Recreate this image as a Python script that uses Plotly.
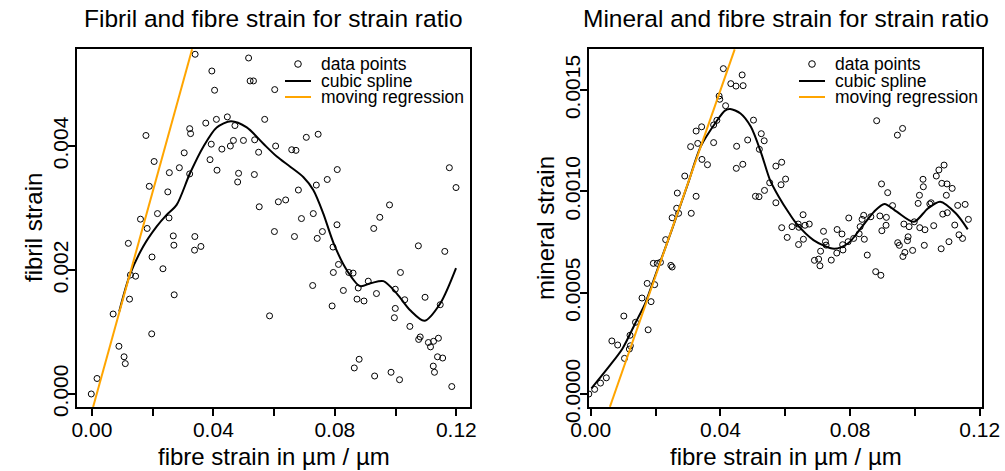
import plotly.graph_objects as go

# ---------------- data: fibril strain vs fibre strain ----------------
fib_x = [0.0340, 0.0516, 0.0395, 0.0521, 0.0532, 0.0404, 0.0602, 0.0375, 0.0410, 0.0446,
         0.0471, 0.0569, 0.0322, 0.0325, 0.0178, 0.0393, 0.0466, 0.0499, 0.0536, 0.0428,
         0.0456, 0.0549, 0.0605, 0.0304, 0.0205, 0.0288, 0.0389, 0.0255, 0.0322, 0.0412,
         0.0483, 0.0535, 0.0480, 0.0189, 0.0250, 0.0551, 0.0614, 0.0216, 0.0254, 0.0160,
         0.0182, 0.0120, 0.0268, 0.0270, 0.0339, 0.0338, 0.0359, 0.0601, 0.0198, 0.0234,
         0.0127, 0.0144, 0.0271, 0.0124, 0.0070, 0.0585, 0.0197, 0.0089, 0.0106, 0.0110,
         0.0017, -0.0002,
         0.0706, 0.0745, 0.0658, 0.0672, 0.0808, 0.0775, 0.0739, 0.0680, 0.0638, 0.0729,
         0.0690, 0.0980, 0.0948, 0.1177, 0.1199,
         0.0667, 0.0742, 0.0759, 0.0807, 0.0928, 0.0794, 0.1075, 0.1162, 0.0812, 0.0795,
         0.0846, 0.0860, 0.1016, 0.0727, 0.0910, 0.0877, 0.0828, 0.0937, 0.0999, 0.0873,
         0.0896, 0.1030, 0.1097, 0.1147, 0.0791, 0.0999, 0.0996, 0.1047, 0.1081, 0.1076,
         0.1108, 0.1125, 0.1115, 0.1141, 0.1138, 0.1155, 0.1124, 0.1128, 0.0880, 0.0864,
         0.0931, 0.0985, 0.1013, 0.1185]
fib_y = [0.00548, 0.00542, 0.00521, 0.00505, 0.00505, 0.00490, 0.00491, 0.00437, 0.00443, 0.00447,
         0.00433, 0.00443, 0.00428, 0.00420, 0.00417, 0.00403, 0.00409, 0.00409, 0.00410, 0.00395,
         0.00400, 0.00390, 0.00400, 0.00389, 0.00375, 0.00365, 0.00378, 0.00357, 0.00355, 0.00361,
         0.00356, 0.00354, 0.00342, 0.00335, 0.00326, 0.00302, 0.00310, 0.00291, 0.00284, 0.00282,
         0.00267, 0.00243, 0.00255, 0.00240, 0.00254, 0.00232, 0.00238, 0.00262, 0.00221, 0.00202,
         0.00192, 0.00190, 0.00160, 0.00153, 0.00129, 0.00126, 0.00097, 0.00077, 0.00060, 0.00049,
         0.00025, 0.00000,
         0.00414, 0.00419, 0.00394, 0.00393, 0.00362, 0.00346, 0.00337, 0.00329, 0.00313, 0.00291,
         0.00283, 0.00305, 0.00285, 0.00365, 0.00333,
         0.00254, 0.00251, 0.00262, 0.00273, 0.00267, 0.00237, 0.00239, 0.00230, 0.00209, 0.00196,
         0.00196, 0.00195, 0.00196, 0.00175, 0.00182, 0.00171, 0.00167, 0.00162, 0.00169, 0.00153,
         0.00150, 0.00152, 0.00156, 0.00144, 0.00142, 0.00138, 0.00123, 0.00109, 0.00092, 0.00088,
         0.00083, 0.00085, 0.00076, 0.00090, 0.00060, 0.00058, 0.00045, 0.00035, 0.00056, 0.00042,
         0.00029, 0.00035, 0.00023, 0.00012]

fib_spline_x = [0.0090, 0.0125, 0.0169, 0.0213, 0.0246, 0.0279, 0.0323, 0.0367, 0.0411, 0.0458,
                0.0510, 0.0564, 0.0609, 0.0652, 0.0696, 0.0729, 0.0762, 0.0796, 0.0839, 0.0883,
                0.0920, 0.0960, 0.1004, 0.1048, 0.1095, 0.1147, 0.1199]
fib_spline_y = [0.00133, 0.00192, 0.00238, 0.00270, 0.00289, 0.00305, 0.00356, 0.00399, 0.00430, 0.00440,
                0.00430, 0.00404, 0.00383, 0.00367, 0.00350, 0.00329, 0.00291, 0.00243, 0.00200, 0.00174,
                0.00179, 0.00182, 0.00162, 0.00135, 0.00118, 0.00146, 0.00203]

fib_reg_x = [0.0004, 0.0330]
fib_reg_y = [-0.00021, 0.00556]

# ---------------- data: mineral strain vs fibre strain ----------------
min_x = [0.0409, 0.0467, 0.0432, 0.0448, 0.0470, 0.0396, 0.0398, 0.0416, 0.0502, 0.0389,
         0.0379, 0.0342, 0.0325, 0.0526, 0.0535, 0.0330, 0.0308, 0.0379, 0.0484, 0.0450,
         0.0520, 0.0343, 0.0360, 0.0449, 0.0469, 0.0290, 0.0552, 0.0536, 0.0508, 0.0519,
         0.0267, 0.0325, 0.0265, 0.0271, 0.0310, 0.0251,
         0.0231, 0.0193, 0.0205, 0.0215, 0.0247, 0.0251, 0.0174, 0.0197, 0.0158, 0.0186,
         0.0102, 0.0138, 0.0177, 0.0121, 0.0065, 0.0083, 0.0122, 0.0119, 0.0104, 0.0048,
         0.0030, 0.0012, -0.0006,
         0.0882, 0.0946, 0.0962, 0.0571, 0.0589, 0.0601, 0.0587, 0.0571, 0.0655, 0.0897,
         0.0916, 0.1025, 0.1026, 0.1066, 0.1074, 0.1090, 0.1083, 0.1099, 0.1115, 0.1014,
         0.1046, 0.1050, 0.1097, 0.1010, 0.0931, 0.1132, 0.1155, 0.0796, 0.0842, 0.0864,
         0.0892, 0.0912, 0.1086, 0.1100, 0.1165,
         0.0589, 0.0606, 0.0621, 0.0640, 0.0642, 0.0661, 0.0674, 0.0641, 0.0656, 0.0718,
         0.0724, 0.0726, 0.0709, 0.0690, 0.0703, 0.0707, 0.0742, 0.0760, 0.0775, 0.0759,
         0.0778, 0.0777, 0.0794, 0.0811, 0.0828, 0.0844, 0.0831, 0.0837, 0.0853, 0.0898,
         0.0911, 0.0879, 0.0895, 0.0947, 0.0952, 0.0966, 0.0982, 0.0979, 0.0977, 0.0969,
         0.0963, 0.0993, 0.1015, 0.1031, 0.1058, 0.1029, 0.1081, 0.1105, 0.1123, 0.1136,
         0.1147, 0.0998]
min_y = [0.001606, 0.001575, 0.001532, 0.001520, 0.001522, 0.001471, 0.001455, 0.001423, 0.001352, 0.001351,
         0.001328, 0.001319, 0.001298, 0.001285, 0.001250, 0.001237, 0.001221, 0.001241, 0.001254, 0.001223,
         0.001208, 0.001158, 0.001132, 0.001114, 0.001134, 0.001076, 0.001043, 0.001005, 0.000976, 0.000974,
         0.000992, 0.000976, 0.000917, 0.000892, 0.000892, 0.000870,
         0.000762, 0.000645, 0.000645, 0.000650, 0.000635, 0.000627, 0.000546, 0.000540, 0.000474, 0.000456,
         0.000385, 0.000354, 0.000317, 0.000290, 0.000262, 0.000242, 0.000238, 0.000222, 0.000176, 0.000080,
         0.000054, 0.000023, 0.000000,
         0.001349, 0.001278, 0.001311, 0.001125, 0.001144, 0.001061, 0.001033, 0.000944, 0.000885, 0.001037,
         0.000994, 0.001060, 0.001023, 0.001076, 0.001106, 0.001130, 0.001040, 0.001037, 0.001015, 0.000981,
         0.000938, 0.000944, 0.000981, 0.000941, 0.000930, 0.000931, 0.000936, 0.000869, 0.000882, 0.000875,
         0.000879, 0.000872, 0.000888, 0.000895, 0.000862,
         0.000821, 0.000773, 0.000826, 0.000839, 0.000823, 0.000833, 0.000839, 0.000738, 0.000764, 0.000803,
         0.000752, 0.000735, 0.000705, 0.000660, 0.000666, 0.000633, 0.000661, 0.000812, 0.000790, 0.000696,
         0.000711, 0.000737, 0.000752, 0.000768, 0.000791, 0.000764, 0.000826, 0.000862, 0.000686, 0.000806,
         0.000833, 0.000604, 0.000586, 0.000747, 0.000734, 0.000839, 0.000826, 0.000776, 0.000757, 0.000699,
         0.000679, 0.000709, 0.000821, 0.000811, 0.000831, 0.000734, 0.000717, 0.000752, 0.000834, 0.000786,
         0.000768, 0.000850]

min_spline_x = [0.0002, 0.0056, 0.0098, 0.0138, 0.0168, 0.0200, 0.0250, 0.0300, 0.0339, 0.0387,
                0.0414, 0.0430, 0.0462, 0.0494, 0.0526, 0.0553, 0.0580, 0.0612, 0.0634, 0.0687,
                0.0751, 0.0794, 0.0837, 0.0874, 0.0906, 0.0944, 0.0997, 0.1040, 0.1078, 0.1126,
                0.1163]
min_spline_y = [0.000028, 0.000135, 0.000225, 0.000352, 0.000448, 0.000590, 0.000810, 0.001040, 0.001221, 0.001344,
                0.001399, 0.001407, 0.001385, 0.001319, 0.001188, 0.001056, 0.000974, 0.000892, 0.000842, 0.000760,
                0.000717, 0.000744, 0.000826, 0.000900, 0.000938, 0.000900, 0.000850, 0.000916, 0.000949, 0.000892,
                0.000813]

min_reg_x = [0.0059, 0.0444]
min_reg_y = [-0.000063, 0.001701]

# ---------------- axis ticks / labels ----------------
x_tickvals = [0.00, 0.02, 0.04, 0.06, 0.08, 0.10, 0.12]
x_ticktext = ["0.00", "", "0.04", "", "0.08", "", "0.12"]
fib_tickvals = [0.000, 0.002, 0.004]
fib_ticktext = ["0.000", "0.002", "0.004"]
min_tickvals = [0.0000, 0.0005, 0.0010, 0.0015]
min_ticktext = ["0.0000", "0.0005", "0.0010", "0.0015"]

titles = ["Fibril and fibre strain for strain ratio", "Mineral and fibre strain for strain ratio"]
x_title = "fibre strain in \u00b5m / \u00b5m"
y_titles = ["fibril strain", "mineral strain"]
legend_names = ["data points", "cubic spline", "moving regression"]

FONT = "Liberation Sans, Arial, sans-serif"
ORANGE = "#FFA500"
W, H = 1005, 471

fig = go.Figure()

panels = [
    (fib_x, fib_y, fib_spline_x, fib_spline_y, fib_reg_x, fib_reg_y, "x", "y"),
    (min_x, min_y, min_spline_x, min_spline_y, min_reg_x, min_reg_y, "x2", "y2"),
]
for px_, py_, sx, sy, rx, ry, xa, ya in panels:
    fig.add_trace(go.Scatter(x=px_, y=py_, mode="markers", name=legend_names[0],
                             xaxis=xa, yaxis=ya, showlegend=False, cliponaxis=True,
                             marker=dict(symbol="circle-open", size=6, color="black",
                                         line=dict(width=1, color="black"))))
    fig.add_trace(go.Scatter(x=sx, y=sy, mode="lines", name=legend_names[1],
                             xaxis=xa, yaxis=ya, showlegend=False,
                             line=dict(color="black", width=2, shape="spline", smoothing=0.8)))
    fig.add_trace(go.Scatter(x=rx, y=ry, mode="lines", name=legend_names[2],
                             xaxis=xa, yaxis=ya, showlegend=False,
                             line=dict(color=ORANGE, width=2)))

# plot-area boxes in pixels
L1, R1, L2, R2 = 77, 470, 589, 982
TOP, BOT = 49, 407
dom1 = [L1 / W, R1 / W]
dom2 = [L2 / W, R2 / W]
ydom = [(H - BOT) / H, (H - TOP) / H]

common_x = dict(showline=True, linewidth=1.5, linecolor="black", mirror=True,
                ticks="outside", ticklen=7, tickwidth=1.5, tickcolor="black",
                showgrid=False, zeroline=False, automargin=False,
                tickvals=x_tickvals, ticktext=x_ticktext, ticklabelstandoff=-4,
                tickfont=dict(family=FONT, size=21, color="black"))
common_y = dict(showline=True, linewidth=1.5, linecolor="black", mirror=True,
                ticks="outside", ticklen=7, tickwidth=1.5, tickcolor="black",
                showgrid=False, zeroline=False, automargin=False, tickangle=-90,
                ticklabelstandoff=-8,
                tickfont=dict(family=FONT, size=21, color="black"))

fig.update_layout(
    width=W, height=H,
    margin=dict(l=0, r=0, t=0, b=0),
    paper_bgcolor="white", plot_bgcolor="white",
    font=dict(family=FONT, color="black"),
    showlegend=False,
    xaxis=dict(domain=dom1, range=[-0.0049, 0.1245], anchor="y", **common_x),
    yaxis=dict(domain=ydom, range=[-0.00021, 0.005565], anchor="x",
               tickvals=fib_tickvals, ticktext=fib_ticktext, **common_y),
    xaxis2=dict(domain=dom2, range=[-0.00055, 0.1207], anchor="y2", **common_x),
    yaxis2=dict(domain=ydom, range=[-0.000064, 0.001703], anchor="x2",
                tickvals=min_tickvals, ticktext=min_ticktext, **common_y),
)

annots = []
shapes = []
for i, (l, r) in enumerate([(L1, R1), (L2, R2)]):
    cx = (l + r) / 2 / W
    annots.append(dict(text=titles[i], x=cx, y=1 - 19 / H, xref="paper", yref="paper",
                       xanchor="center", yanchor="middle", showarrow=False,
                       font=dict(family=FONT, size=24.5, color="black")))
    annots.append(dict(text=x_title, x=cx, y=1 - 456 / H, xref="paper", yref="paper",
                       xanchor="center", yanchor="middle", showarrow=False,
                       font=dict(family=FONT, size=24, color="black")))
for xpix, t in [(33, y_titles[0]), (545, y_titles[1])]:
    annots.append(dict(text=t, x=xpix / W, y=1 - ((TOP + BOT) / 2) / H, xref="paper", yref="paper",
                       xanchor="center", yanchor="middle", showarrow=False, textangle=-90,
                       font=dict(family=FONT, size=24, color="black")))

# legends (R-style, compact), positioned in pixels
legend_rows = [64, 81, 97]
for key_l, key_r, text_x in [(285, 311, 319), (799, 825, 833)]:
    kc = (key_l + key_r) / 2
    for j, name in enumerate(legend_names):
        yp = legend_rows[j]
        annots.append(dict(text=name, x=text_x / W, y=1 - yp / H, xref="paper", yref="paper",
                           xanchor="left", yanchor="middle", showarrow=False,
                           font=dict(family=FONT, size=17.5, color="black")))
    # key for data points: open circle
    rad = 3.3
    shapes.append(dict(type="circle", xref="paper", yref="paper",
                       x0=(kc - rad) / W, x1=(kc + rad) / W,
                       y0=1 - (legend_rows[0] + rad) / H, y1=1 - (legend_rows[0] - rad) / H,
                       line=dict(color="black", width=1), fillcolor="rgba(0,0,0,0)"))
    shapes.append(dict(type="line", xref="paper", yref="paper",
                       x0=key_l / W, x1=key_r / W, y0=1 - legend_rows[1] / H, y1=1 - legend_rows[1] / H,
                       line=dict(color="black", width=2)))
    shapes.append(dict(type="line", xref="paper", yref="paper",
                       x0=key_l / W, x1=key_r / W, y0=1 - legend_rows[2] / H, y1=1 - legend_rows[2] / H,
                       line=dict(color=ORANGE, width=2)))

fig.update_layout(annotations=annots, shapes=shapes)

fig.write_html("out.html", config={"displayModeBar": False},
               post_script="document.body.style.margin='0px';document.body.style.overflow='hidden';")
